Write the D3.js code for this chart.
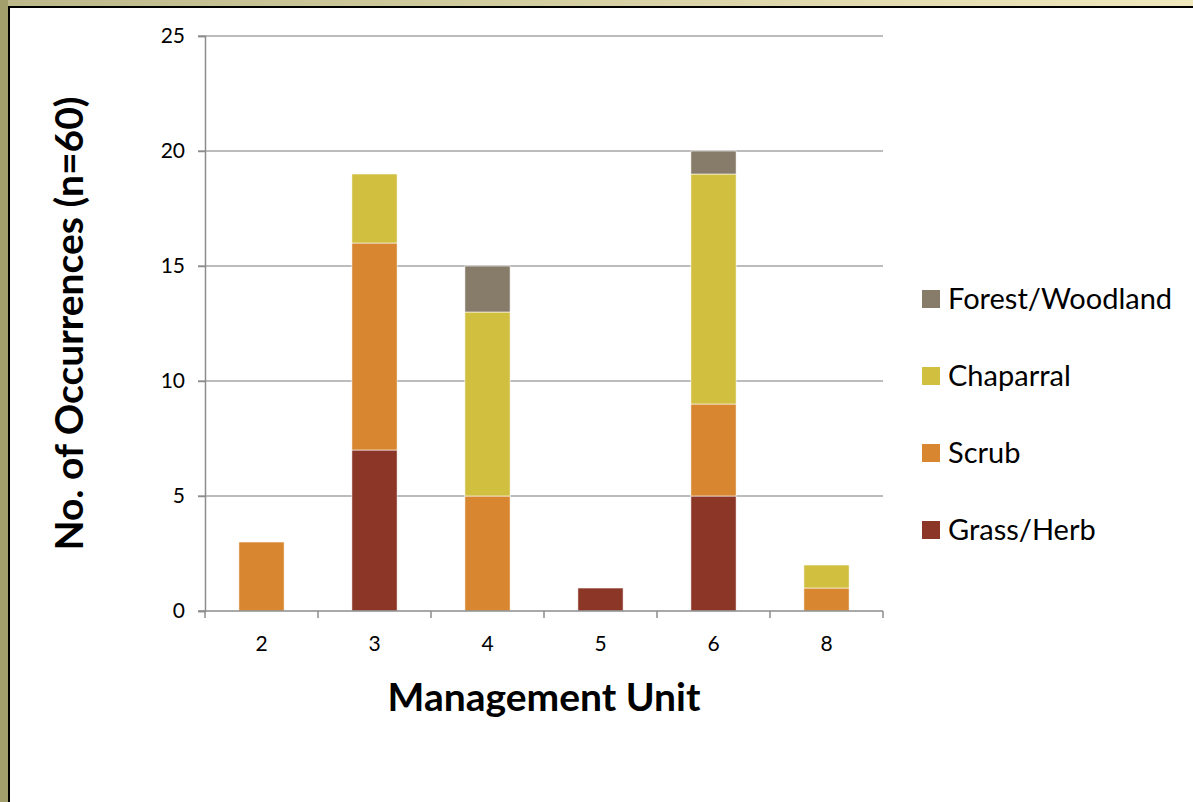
<!DOCTYPE html>
<html>
<head>
<meta charset="utf-8">
<script src="https://cdn.jsdelivr.net/npm/d3@7"></script>
<style>
  html, body { margin: 0; padding: 0; background: #fff; }
  svg text { font-family: Lato, "Open Sans", sans-serif; fill: #000; }
</style>
</head>
<body>
<div id="graph"></div>
<script>
// chart values
var units = ["2", "3", "4", "5", "6", "8"];
var habitats = ["Grass/Herb", "Scrub", "Chaparral", "Forest/Woodland"];
var grassHerb = [0, 7, 0, 1, 5, 0];
var scrub = [3, 9, 5, 0, 4, 1];
var chaparral = [0, 3, 8, 0, 10, 1];
var forest = [0, 0, 2, 0, 1, 0];
var yTicks = [0, 5, 10, 15, 20, 25];
var colors = ["#8b3626", "#d8862f", "#d1bf40", "#877c69"];

var W = 1193, H = 802;
var margin = { top: 36, left: 205, right: 310, bottom: 191 },
    width = W - margin.left - margin.right,
    height = H - margin.top - margin.bottom;

var root = d3.select("#graph").append("svg")
    .attr("width", W)
    .attr("height", H);

// frame: tan band on top/left and a black rule
var grad = root.append("defs").append("linearGradient")
    .attr("id", "band").attr("x1", "0").attr("x2", "1");
grad.append("stop").attr("offset", "0").attr("stop-color", "#bdb88a");
grad.append("stop").attr("offset", "1").attr("stop-color", "#efe9bd");
root.append("rect").attr("width", W).attr("height", H).attr("fill", "url(#band)");
root.append("rect").attr("x", 8).attr("y", 6).attr("width", W - 8).attr("height", H - 6).attr("fill", "#000");
root.append("rect").attr("x", 10).attr("y", 8).attr("width", W - 10).attr("height", H - 8).attr("fill", "#fff");
root.append("rect").attr("x", 0).attr("y", 0).attr("width", 8).attr("height", H).attr("fill", "#a39f6c");

var svg = root.append("g")
    .attr("transform", "translate(" + margin.left + "," + margin.top + ")");

var rows = units.map(function (u, i) {
    return { unit: u, "Grass/Herb": grassHerb[i], "Scrub": scrub[i], "Chaparral": chaparral[i], "Forest/Woodland": forest[i] };
});
var stacked = d3.stack().keys(habitats)(rows);

var x = d3.scaleBand().domain(units).range([0, width]).paddingInner(0.6).paddingOuter(0.3);
var y = d3.scaleLinear().domain([0, 25]).range([height, 0]);

// gridlines
svg.append("g")
    .selectAll("line")
    .data(yTicks.slice(1))
    .join("line")
    .attr("x1", -7).attr("x2", width)
    .attr("y1", function (d) { return y(d); })
    .attr("y2", function (d) { return y(d); })
    .attr("stroke", "#a6a6a6")
    .attr("stroke-width", 1.5);

// bars
svg.append("g")
    .selectAll("g")
    .data(stacked)
    .join("g")
    .attr("fill", function (d, i) { return colors[i]; })
    .selectAll("rect")
    .data(function (d) { return d.filter(function (p) { return p[1] > p[0]; }); })
    .join("rect")
    .attr("x", function (d) { return x(d.data.unit); })
    .attr("width", x.bandwidth())
    .attr("y", function (d) { return y(d[1]); })
    .attr("height", function (d) { return y(d[0]) - y(d[1]); })
    .attr("stroke", "#fff")
    .attr("stroke-width", 0.6);

// y axis
var yAxis = svg.append("g")
    .call(d3.axisLeft(y).tickValues(yTicks).tickSize(7).tickPadding(13));
yAxis.select(".domain").attr("stroke", "#8c8c8c").attr("stroke-width", 1.5);
yAxis.selectAll(".tick line").attr("stroke", "#8c8c8c").attr("stroke-width", 1.5);
yAxis.selectAll("text").style("font-size", "21px");

// x axis
var xAxis = svg.append("g")
    .attr("transform", "translate(0," + height + ")")
    .call(d3.axisBottom(x).tickSize(0).tickPadding(25));
xAxis.select(".domain").attr("stroke", "#8c8c8c").attr("stroke-width", 1.5)
    .attr("d", "M-7,0H" + width);
xAxis.selectAll("text").style("font-size", "21px");
xAxis.selectAll(".sep")
    .data(d3.range(units.length + 1))
    .join("line")
    .attr("class", "sep")
    .attr("x1", function (i) { return i * width / units.length; })
    .attr("x2", function (i) { return i * width / units.length; })
    .attr("y1", 0).attr("y2", 7)
    .attr("stroke", "#8c8c8c").attr("stroke-width", 1.5);

// axis titles
svg.append("text")
    .attr("x", width / 2)
    .attr("y", height + 100)
    .attr("text-anchor", "middle")
    .style("font-size", "39px")
    .style("font-weight", "bold")
    .text("Management Unit");

svg.append("text")
    .attr("transform", "translate(-122," + (height / 2) + ") rotate(-90)")
    .attr("text-anchor", "middle")
    .style("font-size", "39px")
    .style("font-weight", "bold")
    .text("No. of Occurrences (n=60)");

// legend, top item is the top of the stack
var legend = root.append("g")
    .selectAll("g")
    .data(habitats.slice().reverse())
    .join("g")
    .attr("transform", function (d, i) { return "translate(922," + (290 + i * 77) + ")"; });
legend.append("rect")
    .attr("width", 18).attr("height", 18)
    .attr("fill", function (d) { return colors[habitats.indexOf(d)]; });
legend.append("text")
    .attr("x", 26).attr("y", 9)
    .attr("dy", "0.35em")
    .style("font-size", "29px")
    .text(function (d) { return d; });
</script>
</body>
</html>
